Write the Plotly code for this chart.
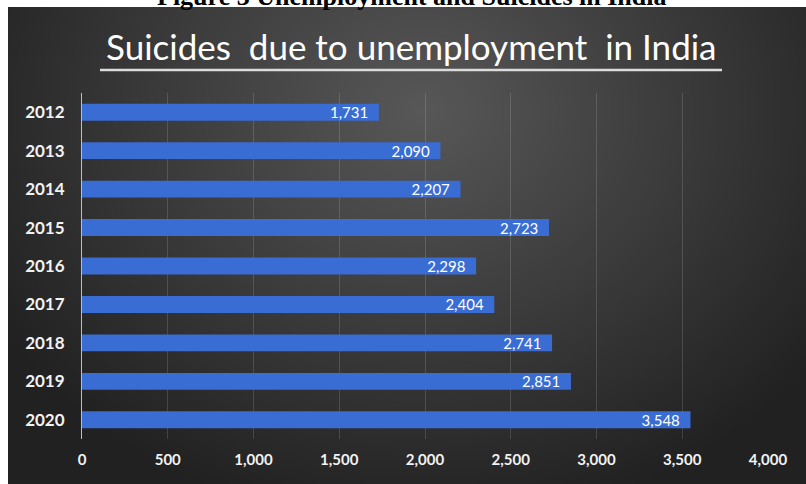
import base64, struct, zlib
import numpy as np
import plotly.graph_objects as go

years = ["2012", "2013", "2014", "2015", "2016", "2017", "2018", "2019", "2020"]
suicides = [1731, 2090, 2207, 2723, 2298, 2404, 2741, 2851, 3548]
x_ticks = [0, 500, 1000, 1500, 2000, 2500, 3000, 3500, 4000]
x_tick_labels = ["0", "500", "1,000", "1,500", "2,000", "2,500", "3,000", "3,500", "4,000"]

W, H = 806, 484
ML, MR, MT, MB = 82, 38, 93, 45
PW, PH = W - ML - MR, H - MT - MB
PANEL_X0, PANEL_Y0 = 8, 7


def make_png(arr):
    h, w, _ = arr.shape
    raw = b"".join(b"\x00" + arr[i].tobytes() for i in range(h))
    def chunk(t, d):
        c = struct.pack(">I", len(d)) + t + d
        return c + struct.pack(">I", zlib.crc32(t + d) & 0xFFFFFFFF)
    png = b"\x89PNG\r\n\x1a\n"
    png += chunk(b"IHDR", struct.pack(">IIBBBBB", w, h, 8, 2, 0, 0, 0))
    png += chunk(b"IDAT", zlib.compress(raw, 9))
    png += chunk(b"IEND", b"")
    return "data:image/png;base64," + base64.b64encode(png).decode()


# radial dark-gray background for the panel
gw, gh = (W - PANEL_X0) // 2, (H - PANEL_Y0) // 2
yy, xx = np.mgrid[0:gh, 0:gw]
px = xx * 2 + PANEL_X0
py = yy * 2 + PANEL_Y0
d = np.sqrt(((px - 420) / 500.0) ** 2 + ((py - 110) / 420.0) ** 2)
d = np.clip(d, 0, 1)
v = (0x58 * (1 - d) + 0x21 * d).astype(np.uint8)
img = np.stack([v, v, v], axis=-1)
bg_uri = make_png(img)


def paper_x(p):
    return (p - ML) / PW


def paper_y(p):
    return (H - MB - p) / PH


fig = go.Figure()
fig.add_trace(go.Bar(
    y=years,
    x=suicides,
    orientation="h",
    width=0.44,
    marker=dict(color="#3a6dd3", line=dict(width=0)),
    text=[f"{v:,}\u00a0\u00a0" for v in suicides],
    textposition="inside",
    insidetextanchor="end",
    constraintext="none",
    textangle=0,
    textfont=dict(family="Lato", size=15, color="white"),
    cliponaxis=False,
))

fig.update_layout(
    width=W, height=H,
    margin=dict(l=ML, r=MR, t=MT, b=MB),
    paper_bgcolor="white",
    plot_bgcolor="rgba(0,0,0,0)",
    showlegend=False,
    images=[dict(
        source=bg_uri, xref="paper", yref="paper",
        x=paper_x(PANEL_X0), y=paper_y(PANEL_Y0),
        sizex=(W - PANEL_X0) / PW, sizey=(H - PANEL_Y0) / PH,
        xanchor="left", yanchor="top", sizing="stretch", layer="below",
    )],
    xaxis=dict(
        range=[0, 4000],
        tickvals=x_ticks, ticktext=x_tick_labels,
        showgrid=True, gridcolor="rgba(255,255,255,0.14)", gridwidth=1,
        zeroline=False, showline=False,
        tickfont=dict(family="Lato", size=15, color="#f2f2f2", weight="bold"),
        ticklabelstandoff=10,
        fixedrange=True,
    ),
    yaxis=dict(
        categoryorder="array", categoryarray=years,
        autorange="reversed",
        showgrid=False, zeroline=False,
        showline=True, linecolor="#bdbdbd", linewidth=1,
        tickfont=dict(family="Lato", size=17, color="#f2f2f2", weight="bold"),
        ticklabelstandoff=13,
        fixedrange=True,
    ),
    annotations=[
        dict(text="<b>Figure 3 Unemployment and Suicides in India</b>",
             xref="paper", yref="paper", x=paper_x(412), y=paper_y(13),
             xanchor="center", yanchor="bottom", showarrow=False,
             font=dict(family="Liberation Serif", size=26, color="black")),
        dict(text="Suicides  due to unemployment  in India",
             xref="paper", yref="paper", x=paper_x(411), y=paper_y(46),
             xanchor="center", yanchor="middle", showarrow=False,
             font=dict(family="Lato", size=35, color="white")),
    ],
    shapes=[dict(type="line", xref="paper", yref="paper",
                 x0=paper_x(100), x1=paper_x(722), y0=paper_y(70), y1=paper_y(70),
                 line=dict(color="#dcdcdc", width=2.5))],
)

fig.write_html("out.html")
